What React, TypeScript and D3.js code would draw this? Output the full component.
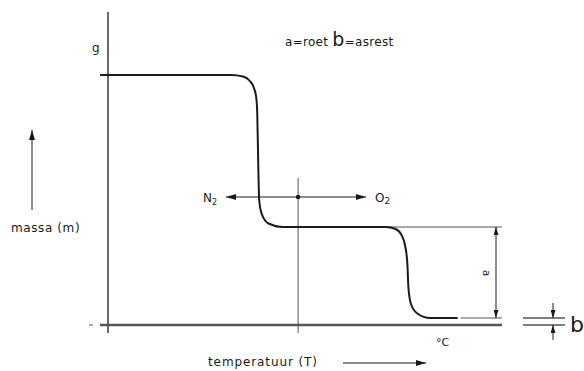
import React from 'react';
import * as d3 from 'd3';

// thermogram: temperature (arbitrary units) vs. mass (% of start)
const temperature = [-8, 125, 137, 144, 148, 150.5, 151.5, 152.5, 153.5, 156, 163, 177, 282, 292, 298, 302, 304, 305, 307.5, 314, 327, 355];
const mass = [100, 100, 99.4, 97.6, 95, 91, 85, 65, 50, 44.5, 40.6, 39.2, 39.2, 38.4, 36, 31, 24, 15, 8.5, 4.6, 2.8, 2.8];

const plateauSoot = 39.2; // after N2 step
const plateauAsh = 2.8; // residue
const switchTemp = 193; // N2 -> O2

const labels = {
  yAxis: 'massa (m)',
  xAxis: 'temperatuur (T)',
  unitY: 'g',
  unitX: '°C',
  n2: 'N',
  o2: 'O',
  legendA: 'a=roet',
  legendB: 'b',
  legendBText: '=asrest',
};

const W = 584;
const H = 371;
const font = "'DejaVu Sans', sans-serif";

const App = () => {
  const x = d3.scaleLinear().domain([0, 400]).range([108, 502]);
  const y = d3.scaleLinear().domain([0, 100]).range([325, 75]);

  const curve = d3
    .line<number>()
    .x((_, i) => x(temperature[i]))
    .y((d) => y(d))
    .curve(d3.curveMonotoneX)(mass);

  const x0 = x(0);
  const xEnd = x(400);
  const yBase = y(0);
  const ySoot = y(plateauSoot);
  const yAsh = y(plateauAsh);
  const xSw = x(switchTemp);
  const yArrow = 197;
  const xAshEnd = x(temperature[temperature.length - 1]);

  const ink = '#1a1a1a';
  const grey = '#555';

  return (
    <svg width={W} height={H} style={{ position: 'absolute', left: 0, top: 0, background: '#fff' }}>
      <defs>
        <marker id="ah" viewBox="0 0 10 6" refX="10" refY="3" markerWidth="10" markerHeight="6" markerUnits="userSpaceOnUse" orient="auto">
          <path d="M0,0 L10,3 L0,6 Z" fill={ink} />
        </marker>
        <marker id="ahs" viewBox="0 0 8 5" refX="8" refY="2.5" markerWidth="8" markerHeight="5" markerUnits="userSpaceOnUse" orient="auto">
          <path d="M0,0 L8,2.5 L0,5 Z" fill={ink} />
        </marker>
      </defs>

      {/* axes */}
      <line x1={x0} x2={x0} y1={12} y2={333} stroke={ink} strokeWidth={1.3} />
      <line x1={100} x2={xEnd} y1={yBase} y2={yBase} stroke={grey} strokeWidth={2.4} />
      <line x1={89} x2={93} y1={yBase} y2={yBase} stroke={grey} strokeWidth={1} />

      {/* reference lines */}
      <line x1={x(170)} x2={xEnd} y1={ySoot} y2={ySoot} stroke={grey} strokeWidth={1.1} />
      <line x1={xAshEnd + 3} x2={xEnd} y1={yAsh} y2={yAsh} stroke={grey} strokeWidth={1.1} />

      {/* gas switch */}
      <line x1={xSw} x2={xSw} y1={178} y2={333} stroke={grey} strokeWidth={1} />
      <line x1={xSw} x2={226} y1={yArrow} y2={yArrow} stroke={ink} strokeWidth={1} markerEnd="url(#ah)" />
      <line x1={xSw} x2={366} y1={yArrow} y2={yArrow} stroke={ink} strokeWidth={1} markerEnd="url(#ah)" />
      <circle cx={xSw} cy={yArrow} r={2.3} fill={ink} />

      {/* curve */}
      <path d={curve ?? ''} fill="none" stroke={ink} strokeWidth={2} />

      {/* dimension a */}
      <line x1={496} x2={496} y1={272} y2={ySoot} stroke={ink} strokeWidth={1} markerEnd="url(#ahs)" />
      <line x1={496} x2={496} y1={272} y2={yAsh} stroke={ink} strokeWidth={1} markerEnd="url(#ahs)" />
      <text x={483} y={273} fontFamily={font} fontSize={10} fill={ink} textAnchor="middle" transform="rotate(90 483 273)">a</text>

      {/* dimension b */}
      <line x1={523} x2={565} y1={yAsh} y2={yAsh} stroke={grey} strokeWidth={1.3} />
      <line x1={523} x2={565} y1={yBase} y2={yBase} stroke={grey} strokeWidth={1.3} />
      <line x1={553} x2={553} y1={303} y2={yAsh} stroke={ink} strokeWidth={1} markerEnd="url(#ahs)" />
      <line x1={553} x2={553} y1={340} y2={yBase} stroke={ink} strokeWidth={1} markerEnd="url(#ahs)" />
      <text x={570} y={332} fontFamily={font} fontSize={22} fill={ink}>b</text>

      {/* labels */}
      <text x={92} y={52} fontFamily={font} fontSize={12} fill={ink}>{labels.unitY}</text>
      <text x={436} y={346} fontFamily={font} fontSize={11} fill={ink}>{labels.unitX}</text>
      <text x={203} y={202} fontFamily={font} fontSize={12} fill={ink}>
        {labels.n2}<tspan fontSize={8} dy={3}>2</tspan>
      </text>
      <text x={375} y={202} fontFamily={font} fontSize={12} fill={ink}>
        {labels.o2}<tspan fontSize={9} dy={2}>2</tspan>
      </text>
      <text x={285} y={46} fontFamily={font} fontSize={12} fill={ink} letterSpacing={0.3}>
        {labels.legendA}
        <tspan fontSize={19} dx={4}>{labels.legendB}</tspan>
        <tspan>{labels.legendBText}</tspan>
      </text>

      {/* axis titles */}
      <line x1={32} x2={32} y1={210} y2={130} stroke={ink} strokeWidth={1} markerEnd="url(#ah)" />
      <text x={11} y={232} fontFamily={font} fontSize={12} fill={ink} letterSpacing={0.6}>{labels.yAxis}</text>
      <text x={208} y={366} fontFamily={font} fontSize={12} fill={ink} letterSpacing={0.9}>{labels.xAxis}</text>
      <line x1={343} x2={426} y1={363} y2={363} stroke={ink} strokeWidth={1} markerEnd="url(#ah)" />
    </svg>
  );
};

export default App;
